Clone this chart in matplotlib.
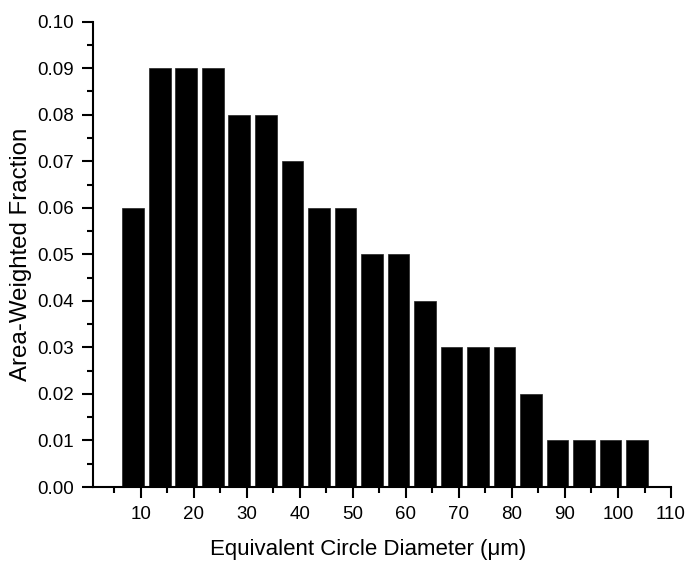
import matplotlib
matplotlib.use("Agg")
import matplotlib.pyplot as plt
from matplotlib.ticker import MultipleLocator

plt.rcParams['font.family'] = ['Liberation Sans', 'DejaVu Sans']

# bin centres (um) and area-weighted fraction per bin
diameter = [8.6, 13.6, 18.6, 23.6, 28.6, 33.6, 38.6, 43.6, 48.6, 53.6,
            58.6, 63.6, 68.6, 73.6, 78.6, 83.6, 88.6, 93.6, 98.6, 103.6]
fraction = [0.06, 0.09, 0.09, 0.09, 0.08, 0.08, 0.07, 0.06, 0.06, 0.05,
            0.05, 0.04, 0.03, 0.03, 0.03, 0.02, 0.01, 0.01, 0.01, 0.01]
xticks = [10, 20, 30, 40, 50, 60, 70, 80, 90, 100, 110]
yticks = [0.00, 0.01, 0.02, 0.03, 0.04, 0.05, 0.06, 0.07, 0.08, 0.09, 0.10]

fig = plt.figure(figsize=(6.92, 5.69), dpi=100)
ax = fig.add_axes([0.1344, 0.1441, 0.8353, 0.8178])

ax.bar(diameter, fraction, width=4.1, color='black', edgecolor='#222222', linewidth=0.5)

ax.set_xlim(1, 110)
ax.set_ylim(0, 0.10)
ax.set_xticks(xticks)
ax.set_yticks(yticks)
ax.set_yticklabels([f"{v:.2f}" for v in yticks])
ax.xaxis.set_minor_locator(MultipleLocator(5))
ax.yaxis.set_minor_locator(MultipleLocator(0.005))

for side in ['top', 'right']:
    ax.spines[side].set_visible(False)
for side in ['left', 'bottom']:
    ax.spines[side].set_linewidth(1.5)

ax.tick_params(which='major', direction='out', length=8, width=1.5, labelsize=13.5, pad=6)
ax.tick_params(which='minor', direction='out', length=4.5, width=1.5)

ax.set_xlabel("Equivalent Circle Diameter (\u03bcm)", fontsize=16)
ax.set_ylabel("Area-Weighted Fraction", fontsize=17.3)
ax.xaxis.set_label_coords(0.4766, -0.112)
ax.yaxis.set_label_coords(-0.105, 0.5)

fig.savefig("out.png", dpi=100)
